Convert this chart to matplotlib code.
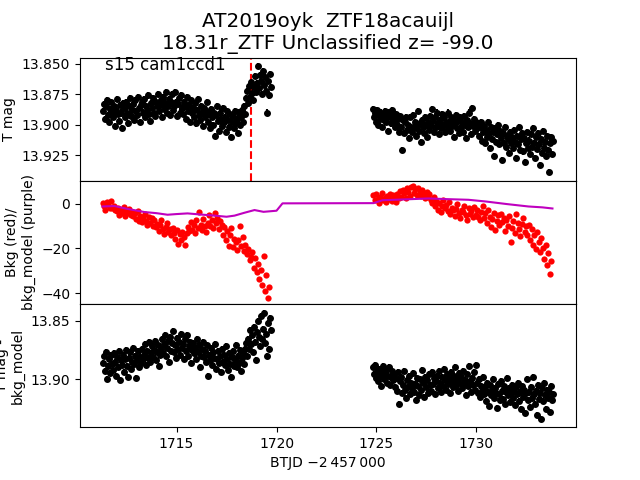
import numpy as np
import matplotlib
matplotlib.use("Agg")
import matplotlib.pyplot as plt
from matplotlib.ticker import MultipleLocator


title = "AT2019oyk  ZTF18acauijl\n18.31r_ZTF Unclassified z= -99.0"
ccd_label = "s15 cam1ccd1"
event_time = 1718.74

# time ranges of the two orbits (BTJD)
seg1_start, seg1_end = 1711.30, 1719.70
seg2_start, seg2_end = 1724.85, 1733.85
bkg1_start, bkg1_end = 1711.30, 1719.63
bkg2_start, bkg2_end = 1724.85, 1733.74

# T mag, orbit 1
tmag1 = [
    13.889, 13.883, 13.895, 13.885, 13.880, 13.892, 13.898, 13.887, 13.881, 13.890,
    13.894, 13.885, 13.901, 13.888, 13.879, 13.891, 13.897, 13.884, 13.890, 13.903,
    13.882, 13.886, 13.894, 13.881, 13.890, 13.899, 13.885, 13.878, 13.893, 13.888,
    13.883, 13.896, 13.880, 13.889, 13.892, 13.877, 13.886, 13.898, 13.884, 13.881,
    13.890, 13.879, 13.894, 13.885, 13.888, 13.876, 13.891, 13.897, 13.882, 13.886,
    13.878, 13.890, 13.893, 13.881, 13.885, 13.875, 13.889, 13.884, 13.880, 13.894,
    13.877, 13.887, 13.882, 13.873, 13.890, 13.885, 13.879, 13.892, 13.881, 13.875,
    13.888, 13.885, 13.873, 13.881, 13.893, 13.883, 13.878, 13.890, 13.876, 13.886,
    13.891, 13.881, 13.885, 13.895, 13.877, 13.889, 13.884, 13.898, 13.880, 13.890,
    13.886, 13.894, 13.882, 13.899, 13.888, 13.879, 13.892, 13.896, 13.885, 13.890,
    13.901, 13.886, 13.894, 13.889, 13.881, 13.898, 13.891, 13.903, 13.887, 13.894,
    13.900, 13.890, 13.909, 13.892, 13.885, 13.897, 13.905, 13.890, 13.895, 13.901,
    13.886, 13.898, 13.894, 13.906, 13.889, 13.896, 13.902, 13.891, 13.910, 13.898,
    13.893, 13.903, 13.889, 13.899, 13.895, 13.907, 13.890, 13.900, 13.894, 13.888,
    13.898, 13.885, 13.891, 13.878, 13.872, 13.882, 13.868, 13.877, 13.865, 13.874,
    13.880, 13.869, 13.860, 13.873, 13.866, 13.852, 13.870, 13.859, 13.864, 13.875,
    13.856, 13.867, 13.861, 13.872, 13.890, 13.864, 13.876, 13.858, 13.869,
]

# T mag, orbit 2
tmag2 = [
    13.887, 13.894, 13.890, 13.898, 13.888, 13.900, 13.892, 13.895, 13.890, 13.902,
    13.891, 13.896, 13.889, 13.898, 13.894, 13.905, 13.890, 13.894, 13.899, 13.888,
    13.897, 13.893, 13.902, 13.891, 13.900, 13.895, 13.906, 13.893, 13.902, 13.921,
    13.896, 13.907, 13.898, 13.894, 13.904, 13.900, 13.911, 13.894, 13.902, 13.906,
    13.892, 13.903, 13.898, 13.909, 13.901, 13.889, 13.905, 13.899, 13.914, 13.896,
    13.902, 13.907, 13.894, 13.900, 13.910, 13.898, 13.904, 13.893, 13.901, 13.887,
    13.897, 13.906, 13.894, 13.902, 13.890, 13.899, 13.908, 13.896, 13.903, 13.891,
    13.900, 13.894, 13.906, 13.898, 13.902, 13.890, 13.898, 13.905, 13.894, 13.901,
    13.896, 13.910, 13.899, 13.892, 13.903, 13.897, 13.907, 13.894, 13.902, 13.898,
    13.906, 13.893, 13.900, 13.911, 13.896, 13.902, 13.890, 13.899, 13.908, 13.886,
    13.901, 13.895, 13.905, 13.898, 13.903, 13.900, 13.909, 13.902, 13.898, 13.913,
    13.906, 13.901, 13.915, 13.904, 13.910, 13.898, 13.907, 13.919, 13.902, 13.912,
    13.906, 13.926, 13.903, 13.914, 13.908, 13.900, 13.916, 13.905, 13.911, 13.929,
    13.907, 13.915, 13.902, 13.918, 13.909, 13.912, 13.923, 13.906, 13.915, 13.910,
    13.919, 13.904, 13.914, 13.927, 13.909, 13.916, 13.902, 13.921, 13.912, 13.907,
    13.922, 13.911, 13.931, 13.915, 13.906, 13.919, 13.913, 13.924, 13.908, 13.918,
    13.903, 13.915, 13.927, 13.910, 13.920, 13.907, 13.916, 13.933, 13.912, 13.923,
    13.905, 13.919, 13.914, 13.926, 13.909, 13.921, 13.939, 13.915, 13.910, 13.924,
    13.913,
]

# background flux (red points)
bkg1 = [
    0.5, -1.2, -2.8, 0.9, -0.4, -2.1, 1.2, -1.7, -0.8, -2.6,
    -3.4, -1.8, -4.9, -2.7, -3.9, -1.6, -5.3, -3.1, -4.2, -2.4,
    -4.8, -3.6, -5.5, -4.1, -6.8, -3.2, -7.5, -5.4, -8.3, -6.1,
    -4.6, -7.9, -9.4, -5.8, -8.7, -6.5, -9.8, -7.2, -10.6, -8.9,
    -12.1, -9.7, -7.4, -11.3, -13.5, -10.2, -8.6, -12.8, -11.5, -14.1,
    -10.7, -12.9, -15.6, -11.8, -17.9, -13.4, -16.2, -12.5, -14.8, -18.5,
    -13.1, -10.4, -12.2, -8.1, -11.6, -9.3, -13.0, -7.4, -10.8, -3.5,
    -9.6, -11.9, -6.8, -10.1, -12.6, -8.4, -5.2, -9.9, -7.1, -10.7,
    -4.1, -8.8, -6.3, -11.2, -7.7, -9.5, -13.8, -10.6, -16.4, -12.3,
    -18.7, -14.2, -11.0, -19.4, -15.8, -17.3, -20.6, -16.1, -9.8, -19.0,
    -14.9, -21.2, -18.4, -22.7, -20.1, -25.3, -23.8, -21.5, -28.6, -24.2,
    -30.4, -27.1, -33.5, -29.8, -36.2, -23.4, -38.9, -31.7, -42.4, -37.5,
]

bkg2 = [
    3.8, 1.5, 4.6, 2.2, 0.3, 3.1, 4.9, 1.8, 2.7, 0.6,
    3.5, 2.0, 4.2, 1.1, 3.9, 2.5, 0.9, 4.4, 2.8, 5.6,
    3.2, 6.1, 4.7, 2.4, 6.9, 5.3, 3.6, 7.4, 7.8, 5.0,
    6.5, 4.1, 7.2, 5.8, 3.3, 6.0, 4.8, 2.6, 5.5, 3.0,
    4.3, 1.9, 0.4, 2.9, -1.2, 1.4, -2.6, 0.2, -3.8, -0.9,
    1.7, -2.1, -0.5, -3.4, 0.6, -4.7, -1.8, -3.0, -5.6, -2.4,
    -0.3, -4.1, -6.2, -2.9, -3.7, -1.1, -5.2, -7.3, -2.0, -4.5,
    -3.2, -6.0, -1.5, -4.8, -2.7, -5.9, -7.4, -3.6, -1.0, -6.5,
    -4.2, -8.6, -2.8, -5.7, -10.3, -6.9, -3.9, -11.8, -7.6, -5.1,
    -9.4, -4.6, -8.0, -6.3, -12.0, -7.1, -9.8, -5.5, -17.0, -10.9,
    -7.8, -13.2, -4.4, -8.7, -11.5, -14.6, -9.1, -6.2, -12.7, -10.0,
    -13.9, -9.3, -16.1, -11.4, -18.5, -14.0, -20.3, -12.6, -17.2, -21.8,
    -15.4, -19.7, -24.9, -18.3, -27.6, -22.1, -31.5, -25.8,
]

# background model (purple line)
model_t = [1711.3, 1711.9, 1712.5, 1713.4, 1714.0, 1714.55, 1715.0, 1715.55,
           1716.2, 1716.9, 1717.5, 1717.9, 1718.4, 1718.9, 1719.35, 1720.0,
           1720.3, 1724.85, 1725.3, 1726.5, 1727.6, 1728.5, 1729.6, 1730.5,
           1731.5, 1732.6, 1733.3, 1733.8]
model_bkg = [-1.2, -1.0, -2.2, -3.7, -4.2, -4.9, -4.6, -4.3,
             -4.8, -5.3, -5.8, -5.3, -4.0, -2.8, -3.6, -3.1,
             0.2, 0.3, 1.6, 2.0, 2.4, 2.1, 1.8, 1.0,
             -0.1, -1.2, -1.6, -2.1]

# T mag - bkg_model, orbit 1
corr1 = [
    13.886, 13.880, 13.893, 13.877, 13.900, 13.889, 13.883, 13.895, 13.879, 13.887,
    13.892, 13.878, 13.885, 13.897, 13.881, 13.890, 13.876, 13.901, 13.884, 13.888,
    13.879, 13.894, 13.883, 13.875, 13.889, 13.898, 13.882, 13.877, 13.891, 13.885,
    13.873, 13.887, 13.880, 13.899, 13.884, 13.876, 13.890, 13.881, 13.886, 13.874,
    13.883, 13.879, 13.870, 13.888, 13.876, 13.882, 13.868, 13.885, 13.878, 13.872,
    13.881, 13.875, 13.867, 13.884, 13.877, 13.871, 13.889, 13.879, 13.874, 13.866,
    13.878, 13.870, 13.862, 13.880, 13.873, 13.867, 13.885, 13.864, 13.876, 13.869,
    13.859, 13.877, 13.871, 13.882, 13.865, 13.874, 13.868, 13.879, 13.861, 13.873,
    13.870, 13.883, 13.866, 13.876, 13.862, 13.880, 13.872, 13.868, 13.886, 13.875,
    13.869, 13.878, 13.873, 13.883, 13.866, 13.877, 13.871, 13.890, 13.880, 13.874,
    13.868, 13.881, 13.876, 13.885, 13.871, 13.897, 13.879, 13.884, 13.873, 13.888,
    13.877, 13.882, 13.870, 13.891, 13.883, 13.876, 13.886, 13.880, 13.894, 13.874,
    13.885, 13.879, 13.888, 13.872, 13.883, 13.892, 13.878, 13.887, 13.898, 13.881,
    13.876, 13.889, 13.884, 13.871, 13.890, 13.880, 13.886, 13.875, 13.893, 13.882,
    13.878, 13.887, 13.874, 13.869, 13.880, 13.866, 13.874, 13.858, 13.870, 13.862,
    13.877, 13.855, 13.868, 13.884, 13.860, 13.850, 13.864, 13.872, 13.846, 13.866,
    13.857, 13.843, 13.869, 13.861, 13.880, 13.852, 13.874, 13.848, 13.858,
]

# T mag - bkg_model, orbit 2
corr2 = [
    13.890, 13.896, 13.888, 13.899, 13.893, 13.902, 13.891, 13.897, 13.906, 13.894,
    13.889, 13.900, 13.895, 13.892, 13.903, 13.897, 13.890, 13.905, 13.898, 13.893,
    13.901, 13.896, 13.907, 13.899, 13.910, 13.894, 13.921, 13.902, 13.898, 13.912,
    13.905, 13.893, 13.909, 13.916, 13.901, 13.907, 13.897, 13.913, 13.903, 13.908,
    13.895, 13.911, 13.904, 13.918, 13.899, 13.906, 13.914, 13.900, 13.909, 13.892,
    13.903, 13.915, 13.898, 13.907, 13.901, 13.912, 13.896, 13.905, 13.910, 13.894,
    13.904, 13.899, 13.913, 13.902, 13.897, 13.908, 13.893, 13.903, 13.911, 13.898,
    13.906, 13.891, 13.901, 13.909, 13.896, 13.904, 13.899, 13.912, 13.894, 13.902,
    13.907, 13.897, 13.890, 13.905, 13.900, 13.910, 13.895, 13.903, 13.898, 13.908,
    13.893, 13.904, 13.901, 13.914, 13.896, 13.906, 13.889, 13.902, 13.911, 13.899,
    13.905, 13.894, 13.909, 13.888, 13.903, 13.912, 13.900, 13.915, 13.906, 13.910,
    13.898, 13.913, 13.907, 13.919, 13.903, 13.911, 13.923, 13.905, 13.914, 13.909,
    13.900, 13.916, 13.908, 13.912, 13.925, 13.904, 13.913, 13.918, 13.902, 13.910,
    13.917, 13.906, 13.921, 13.911, 13.899, 13.914, 13.908, 13.920, 13.912, 13.905,
    13.916, 13.910, 13.922, 13.907, 13.913, 13.903, 13.919, 13.911, 13.926, 13.906,
    13.915, 13.909, 13.929, 13.912, 13.900, 13.918, 13.911, 13.924, 13.907, 13.916,
    13.898, 13.913, 13.921, 13.910, 13.931, 13.905, 13.917, 13.912, 13.934, 13.908,
    13.919, 13.903, 13.914, 13.926, 13.909, 13.916, 13.911, 13.928, 13.906, 13.918,
    13.913,
]

mag_err = 0.0025


t1 = np.linspace(seg1_start, seg1_end, len(tmag1))
t2 = np.linspace(seg2_start, seg2_end, len(tmag2))
tb1 = np.linspace(bkg1_start, bkg1_end, len(bkg1))
tb2 = np.linspace(bkg2_start, bkg2_end, len(bkg2))

fig, axes = plt.subplots(3, 1, sharex=True, figsize=(6.4, 4.8), dpi=100)
plt.subplots_adjust(hspace=0)

# top: light curve
ax = axes[0]
for t, m in [(t1, tmag1), (t2, tmag2)]:
    ax.errorbar(t, m, yerr=mag_err, fmt="o", color="k", ms=4,
                elinewidth=1.5, capsize=0)
ax.axvline(event_time, color="r", ls="--", lw=1.5)
ax.invert_yaxis()
ax.yaxis.set_major_locator(MultipleLocator(0.025))
ax.set_ylabel("T mag")
ax.text(0.05, 0.9, ccd_label, transform=ax.transAxes, fontsize=12)
ax.set_title(title, fontsize="x-large")

# middle: background and model
ax = axes[1]
ax.plot(tb1, bkg1, "o", color="r", ms=4.5, mew=0)
ax.plot(tb2, bkg2, "o", color="r", ms=4.5, mew=0)
ax.plot(model_t, model_bkg, color="m", lw=1.5)
ax.set_ylabel("Bkg (red)/\nbkg_model (purple)")

# bottom: light curve minus background model
ax = axes[2]
for t, m in [(t1, corr1), (t2, corr2)]:
    ax.errorbar(t, m, yerr=mag_err, fmt="o", color="k", ms=4,
                elinewidth=1.5, capsize=0)
ax.invert_yaxis()
ax.yaxis.set_major_locator(MultipleLocator(0.05))
ax.set_ylabel("T mag -\nbkg_model")
ax.set_xlabel("BTJD \u22122\u2009457\u2009000")

plt.savefig("out.png", dpi=100)
